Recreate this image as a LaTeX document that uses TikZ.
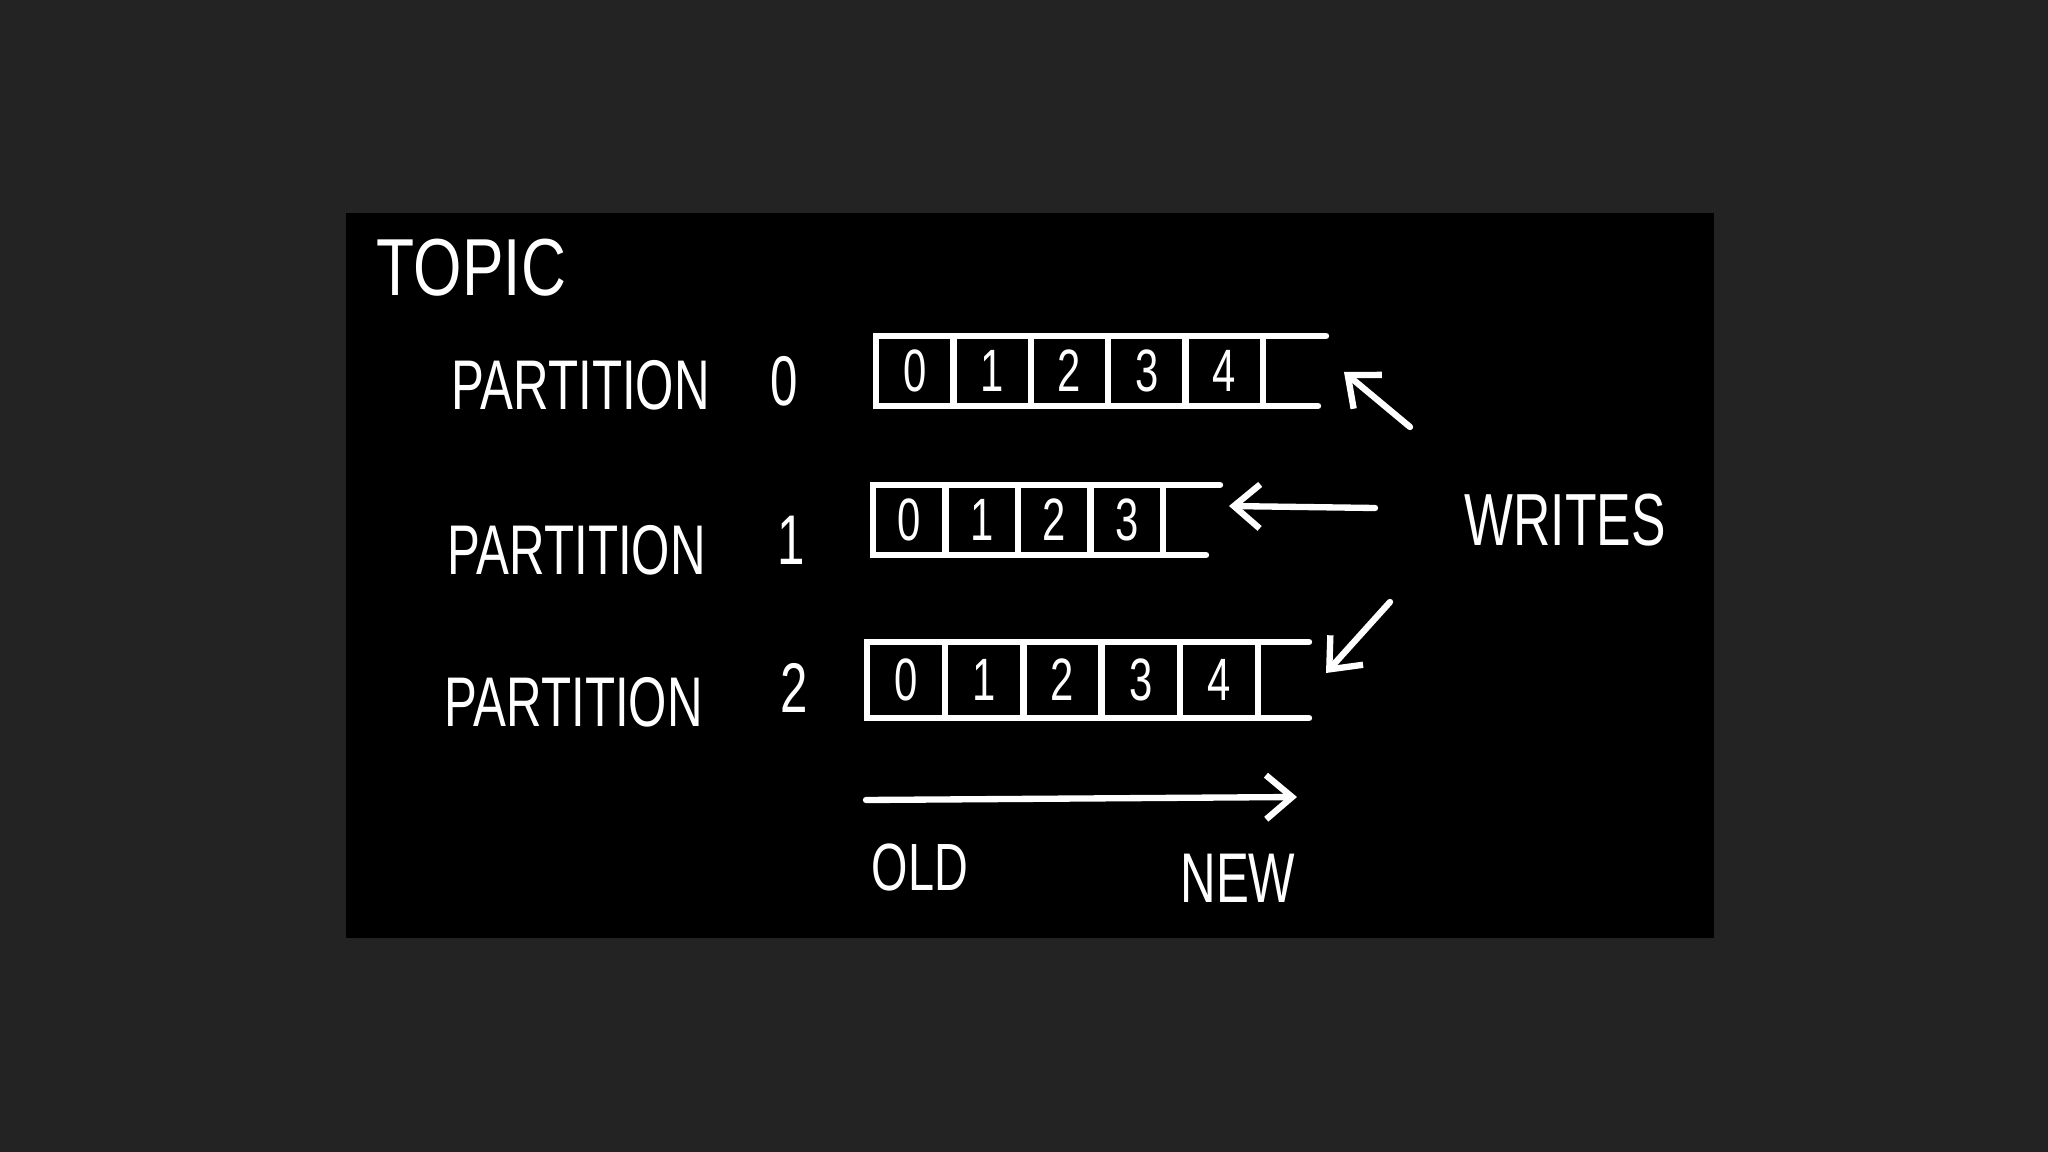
\documentclass[tikz,border=0pt]{standalone}
\usepackage{fontspec}
\usetikzlibrary{positioning}
\usetikzlibrary{arrows.meta}
\newfontfamily\hand[FakeStretch=0.7]{Liberation Sans}
\definecolor{backdrop}{HTML}{232323}
\tikzset{
    handtext/.style={
        font=\hand\fontsize{#1}{#1}\selectfont,
        text=white,
        inner sep=0pt
    },
    handtext/.default=20pt,
    stroke/.style={
        draw=white,
        line width=1.8pt,
        line cap=round
    },
    cellbox/.style={
        stroke,
        font=\hand\fontsize{17pt}{17pt}\selectfont,
        text=white,
        inner sep=0pt,
        outer sep=0pt,
        minimum height=0.70cm
    },
    writearrow/.style={
        stroke,
        -{Straight Barb[length=2.6mm,width=4.4mm,line width=1.8pt]}
    }
}

\begin{document}
\begin{tikzpicture}[x=0.01cm,y=-0.01cm]
% frame
\useasboundingbox[fill=backdrop] (0,0) rectangle (2048,1152);
\fill[black] (346,213) rectangle (1714,938);

% labels
\node[handtext=23pt, anchor=west, xscale=1.1, transform shape] (topic) at (376,268) {TOPIC};
\node[handtext, anchor=west] (part0) at (451,385) {PARTITION};
\node[handtext, anchor=west] (part1) at (447,550) {PARTITION};
\node[handtext, anchor=west] (part2) at (444,702) {PARTITION};
\node[handtext] (num0) at (784,381) {0};
\node[handtext] (num1) at (791,540) {1};
\node[handtext] (num2) at (794,688) {2};

% partition logs
\foreach \d [count=\i] in {0,1,2,3,4}
  \node[cellbox, minimum width=0.774cm] (a\i) at ({876+77.4*(\i-0.5)},371) {\d};
\foreach \d [count=\i] in {0,1,2,3}
  \node[cellbox, minimum width=0.725cm] (b\i) at ({873+72.5*(\i-0.5)},520) {\d};
\foreach \d [count=\i] in {0,1,2,3,4}
  \node[cellbox, minimum width=0.782cm, minimum height=0.76cm] (c\i) at ({867+78.2*(\i-0.5)},680) {\d};

% open ends
\draw[stroke] (a5.north east) -- ++(63,0);
\draw[stroke] (a5.south east) -- ++(55,0);
\draw[stroke] (b4.north east) -- ++(57,0);
\draw[stroke] (b4.south east) -- ++(43,0);
\draw[stroke] (c5.north east) -- ++(51,0);
\draw[stroke] (c5.south east) -- ++(51,0);

% writes
\node[handtext=21pt] (writes) at (1565,520) {WRITES};
\coordinate (w0) at (1410,427);
\coordinate (t0) at (1344,372);
\coordinate (w1) at (1375,508);
\coordinate (t1) at (1229,506);
\coordinate (w2) at (1390,602);
\coordinate (t2) at (1326,673);
\draw[writearrow] (w0) -- (t0);
\draw[writearrow] (w1) -- (t1);
\draw[writearrow] (w2) -- (t2);

% time axis
\coordinate (oldend) at (866,800);
\coordinate (newend) at (1297,797);
\draw[writearrow] (oldend) -- (newend);
\node[handtext=19pt] (old) at (920,867) {OLD};
\node[handtext] (new) at (1238,878) {NEW};
\end{tikzpicture}
\end{document}
